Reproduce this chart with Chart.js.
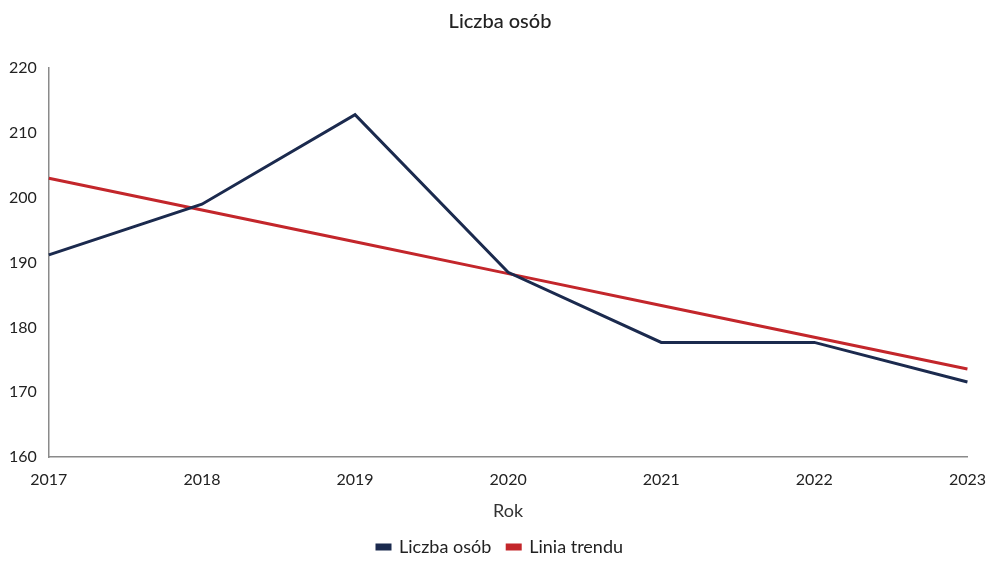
<!DOCTYPE html>
<html>
<head>
<meta charset="utf-8">
<script src="https://cdn.jsdelivr.net/npm/chart.js@4/dist/chart.umd.min.js"></script>
<style>
  html, body { margin: 0; padding: 0; background: #fff; }
  #wrap { width: 991px; height: 561px; }
</style>
</head>
<body>
<div id="wrap"><canvas id="chart" width="991" height="561"></canvas></div>
<script>
const years = ["2017", "2018", "2019", "2020", "2021", "2022", "2023"];
const persons = [191.2, 199, 212.8, 188.5, 177.7, 177.7, 171.6];
const trend = [203, 198.1, 193.2, 188.3, 183.4, 178.5, 173.6];
const yTicks = [160, 170, 180, 190, 200, 210, 220];

const ctx = document.getElementById("chart");

// pull the legend closer to the bottom edge
const legendTrim = {
  id: 'legendTrim',
  beforeInit(chart) {
    const lg = chart.legend;
    const fit = lg.fit;
    lg.fit = function () {
      fit.call(this);
      this.height -= 5;
    };
  }
};

new Chart(ctx, {
  type: 'line',
  data: {
    labels: years,
    datasets: [
      {
        label: 'Liczba osób',
        data: persons,
        borderColor: '#1b2a4e',
        backgroundColor: '#1b2a4e',
        borderWidth: 3,
        pointRadius: 0,
        tension: 0
      },
      {
        label: 'Linia trendu',
        data: trend,
        borderColor: '#c3262b',
        backgroundColor: '#c3262b',
        borderWidth: 3,
        pointRadius: 0,
        tension: 0
      }
    ]
  },
  options: {
    responsive: false,
    animation: false,
    layout: { padding: { left: 9, right: 0, top: 8, bottom: 0 } },
    plugins: {
      title: {
        display: true,
        text: 'Liczba osób',
        color: '#222',
        font: { family: 'Lato', size: 20, weight: '500' },
        padding: { top: 2, bottom: 34 }
      },
      legend: {
        position: 'bottom',
        labels: {
          color: '#222',
          font: { family: 'Lato', size: 18 },
          boxWidth: 13,
          boxHeight: 4,
          padding: 16
        }
      },
      tooltip: { enabled: false }
    },
    scales: {
      x: {
        offset: false,
        grid: { display: false },
        border: { display: true, color: '#8a8a8a', width: 1.5 },
        ticks: {
          color: '#222',
          font: { family: 'Lato', size: 16 },
          padding: 5,
          maxRotation: 0
        },
        title: {
          display: true,
          text: 'Rok',
          color: '#333',
          font: { family: 'Lato', size: 18 },
          padding: { top: 6, bottom: 0 }
        }
      },
      y: {
        min: 160,
        max: 220,
        afterBuildTicks: (axis) => {
          axis.ticks = yTicks.map(v => ({ value: v }));
        },
        grid: { display: false, drawTicks: false },
        border: { display: true, color: '#8a8a8a', width: 1.5 },
        ticks: {
          color: '#222',
          font: { family: 'Lato', size: 16 },
          padding: 6,
          crossAlign: 'far'
        }
      }
    }
  },
  plugins: [legendTrim]
});
</script>
</body>
</html>
